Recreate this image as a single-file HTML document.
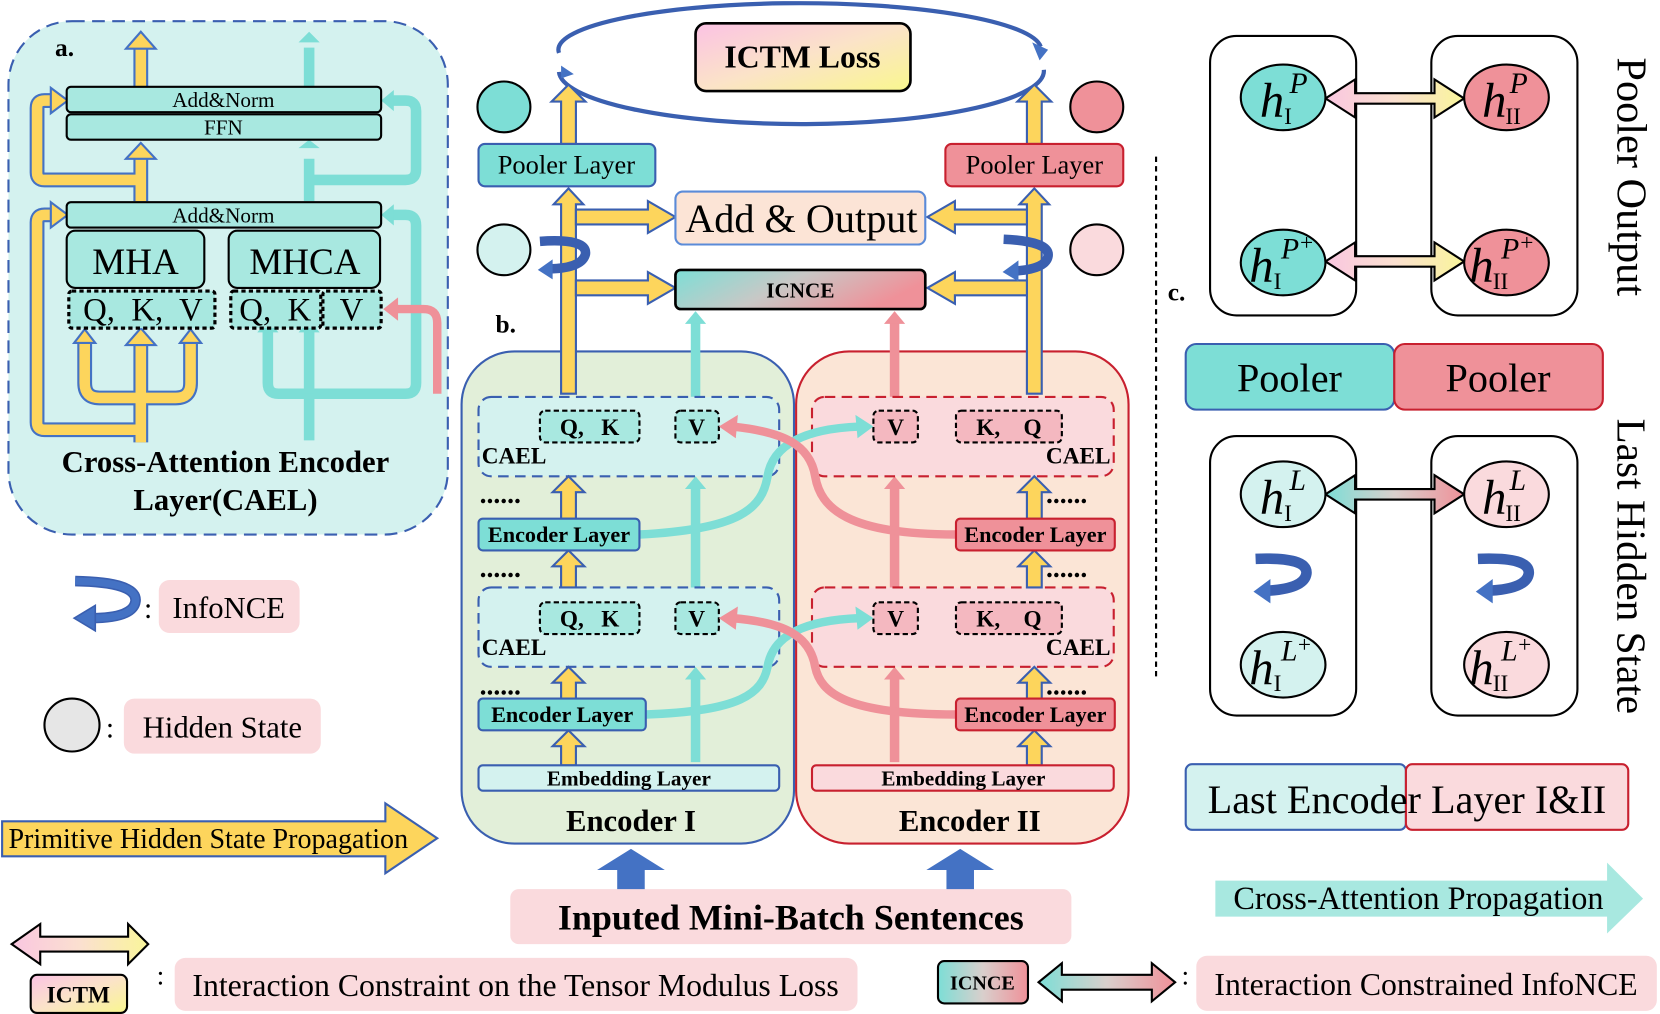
<!DOCTYPE html>
<html><head><meta charset="utf-8"><style>
html,body{margin:0;padding:0;background:#fff;}
svg{display:block;}
text{font-family:"Liberation Serif",serif;fill:#000;white-space:pre;}
.b{font-weight:bold;}
</style></head><body>
<svg width="1660" height="1014" viewBox="0 0 1568 958" preserveAspectRatio="none" xmlns="http://www.w3.org/2000/svg" xml:space="preserve">
<defs>
<linearGradient id="pg" x1="0" y1="0" x2="1" y2="0"><stop offset="0" stop-color="#f9c6e0"/><stop offset="0.5" stop-color="#fbe0d0"/><stop offset="1" stop-color="#f9f59a"/></linearGradient>
<linearGradient id="pg2" x1="0" y1="0" x2="1" y2="1"><stop offset="0" stop-color="#fbc2e4"/><stop offset="0.5" stop-color="#fbe3c8"/><stop offset="1" stop-color="#f9f78e"/></linearGradient>
<linearGradient id="tp" x1="0" y1="0" x2="1" y2="0.3"><stop offset="0" stop-color="#7dded6"/><stop offset="0.5" stop-color="#c8c8c6"/><stop offset="1" stop-color="#ef9199"/></linearGradient>
<linearGradient id="tph" x1="0" y1="0" x2="1" y2="0"><stop offset="0" stop-color="#7dded6"/><stop offset="0.5" stop-color="#d9cfcc"/><stop offset="1" stop-color="#ef9199"/></linearGradient>
</defs>

<!-- ===== Panel a ===== -->
<rect x="8" y="20" width="415" height="485" rx="60" fill="#d4f2ef" stroke="#3a5fb0" stroke-width="2" stroke-dasharray="12,7"/>
<text x="52" y="53" font-size="24" class="b">a.</text>

<g fill="none" stroke="#7dded6" stroke-width="10">
<path d="M292,416 V372 M253,312 V362 Q253,372 263,372 H383 Q393,372 393,362 V213 Q393,203 383,203 H370"/>
<path d="M292,190 V150 M292,170 H383 Q393,170 393,160 V105 Q393,95 383,95 H370"/>
<path d="M292,82 V45"/>
<path d="M292,372 V312"/>
</g>
<g fill="#7dded6">
<polygon points="243,314 253,302 263,314"/><polygon points="282,314 292,302 302,314"/>
<polygon points="360,203 372,193 372,213"/><polygon points="360,95 372,85 372,105"/>
<polygon points="282,140 292,132 302,140"/><polygon points="282,40 292,30 302,40"/>
</g>
<path d="M413,372 V305 Q413,292 400,292 H372" fill="none" stroke="#ef9199" stroke-width="8"/>
<polygon points="362,292 376,281 376,303" fill="#ef9199"/>

<g fill="none" stroke="#4472c4" stroke-width="14" stroke-linejoin="round">
<path d="M133,418 V325 M80,322 V362 Q80,376 94,376 H166 Q180,376 180,362 V322 M133,406 H42 Q35,406 35,399 V210 Q35,203 42,203 H52"/>
<path d="M133,190 V150 M133,170 H42 Q35,170 35,163 V102 Q35,95 42,95 H52"/>
<path d="M133,82 V45"/>
</g>
<g fill="none" stroke="#fdd55c" stroke-width="10" stroke-linejoin="round">
<path d="M133,418 V325 M80,322 V362 Q80,376 94,376 H166 Q180,376 180,362 V322 M133,406 H42 Q35,406 35,399 V210 Q35,203 42,203 H52"/>
<path d="M133,190 V150 M133,170 H42 Q35,170 35,163 V102 Q35,95 42,95 H52"/>
<path d="M133,82 V45"/>
</g>
<g fill="#fdd55c" stroke="#4472c4" stroke-width="2">
<polygon points="119,326 133,310 147,326"/><polygon points="70,324 80,311 90,324"/><polygon points="170,324 180,311 190,324"/>
<polygon points="48,191 64,203 48,215"/><polygon points="48,83 64,95 48,107"/>
<polygon points="119,150 133,135 147,150"/><polygon points="119,46 133,30 147,46"/>
</g>

<g stroke="#000" stroke-width="2" fill="#a8e8e0">
<rect x="63" y="82" width="297" height="24" rx="4"/>
<rect x="63" y="108" width="297" height="24" rx="4"/>
<rect x="63" y="191" width="297" height="24" rx="4"/>
<rect x="63" y="218" width="130" height="54" rx="8"/>
<rect x="216" y="218" width="143" height="54" rx="8"/>
</g>
<g stroke="#000" stroke-width="3" fill="#a8e8e0" stroke-dasharray="4,3">
<rect x="65" y="275" width="138" height="35" rx="3"/>
<rect x="218" y="275" width="85" height="35" rx="3"/>
<rect x="305" y="275" width="55" height="35" rx="3"/>
</g>
<text x="211" y="101" font-size="20" text-anchor="middle">Add&amp;Norm</text>
<text x="211" y="127" font-size="20" text-anchor="middle">FFN</text>
<text x="211" y="210" font-size="20" text-anchor="middle">Add&amp;Norm</text>
<text x="128" y="259" font-size="35" text-anchor="middle">MHA</text>
<text x="288" y="259" font-size="35" text-anchor="middle">MHCA</text>
<text x="135" y="303" font-size="31" text-anchor="middle">Q,  K,  V</text>
<text x="260" y="303" font-size="31" text-anchor="middle">Q,  K</text>
<text x="332" y="303" font-size="31" text-anchor="middle">V</text>
<text x="213" y="446" font-size="29" class="b" text-anchor="middle">Cross-Attention Encoder</text>
<text x="213" y="482" font-size="29" class="b" text-anchor="middle">Layer(CAEL)</text>

<!-- ===== Legend left ===== -->
<path d="M71,549 Q130,550 128,568 Q126,584 86,584" fill="none" stroke="#3a5fb0" stroke-width="10"/>
<path d="M71,549 Q130,550 128,568 Q126,584 86,584" fill="none" stroke="#4472c4" stroke-width="7"/>
<polygon points="70,584 90,572 90,596" fill="#4472c4" stroke="#3a5fb0" stroke-width="1.5"/>
<text x="136" y="584" font-size="28">:</text>
<rect x="150" y="548" width="133" height="50" rx="10" fill="#fadadd"/>
<text x="216" y="584" font-size="29" text-anchor="middle">InfoNCE</text>

<ellipse cx="68" cy="685" rx="26" ry="25" fill="#e6e6e6" stroke="#000" stroke-width="2"/>
<text x="100" y="697" font-size="28">:</text>
<rect x="117" y="660" width="186" height="52" rx="10" fill="#fadadd"/>
<text x="210" y="697" font-size="29" text-anchor="middle">Hidden State</text>

<polygon points="2,776 364,776 364,759 413,792 364,825 364,809 2,809" fill="#fdd55c" stroke="#3a5fb0" stroke-width="2"/>
<text x="8" y="801" font-size="26.5">Primitive Hidden State Propagation</text>

<polygon points="11,892 38,873 38,885 121,885 121,873 140,892 121,911 121,899 38,899 38,911" fill="url(#pg)" stroke="#000" stroke-width="2"/>
<rect x="29" y="921" width="91" height="36" rx="6" fill="url(#pg2)" stroke="#000" stroke-width="2"/>
<text x="74" y="947" font-size="22" class="b" text-anchor="middle">ICTM</text>
<text x="148" y="930" font-size="26">:</text>
<rect x="165" y="905" width="645" height="50" rx="10" fill="#fadadd"/>
<text x="487" y="941" font-size="30" text-anchor="middle">Interaction Constraint on the Tensor Modulus Loss</text>

<!-- ===== Panel b ===== -->
<path d="M528,68 A228,50 0 0 0 986,66" fill="none" stroke="#3a5fb0" stroke-width="4"/>
<path d="M528,50 A228,44 0 0 1 983,44" fill="none" stroke="#3a5fb0" stroke-width="4"/>
<polygon points="975,40 990,47 982,57" fill="#4472c4"/>
<polygon points="530,62 542,70 530,74" fill="#4472c4"/>
<rect x="657" y="22" width="203" height="64" rx="10" fill="url(#pg2)" stroke="#000" stroke-width="2.5"/>
<text x="758" y="64" font-size="30" class="b" text-anchor="middle">ICTM Loss</text>

<ellipse cx="476" cy="101" rx="25" ry="24" fill="#7dded6" stroke="#000" stroke-width="2"/>
<ellipse cx="1036" cy="101" rx="25" ry="24" fill="#ef9199" stroke="#000" stroke-width="2"/>
<ellipse cx="476" cy="236" rx="25" ry="24" fill="#d4f2ef" stroke="#000" stroke-width="2"/>
<ellipse cx="1036" cy="236" rx="25" ry="24" fill="#fadadd" stroke="#000" stroke-width="2"/>

<rect x="436" y="332" width="314" height="465" rx="50" fill="#e2efd9" stroke="#3a5fb0" stroke-width="2"/>
<rect x="752" y="332" width="314" height="465" rx="50" fill="#fbe5d6" stroke="#c8202f" stroke-width="2"/>

<g stroke-width="9" fill="none">
<path d="M657,720 V640 M657,555 V460 M657,375 V305" stroke="#7dded6"/>
<path d="M845,720 V640 M845,555 V460 M845,375 V305" stroke="#ef9199"/>
</g>
<g fill="#7dded6"><polygon points="647,642 657,630 667,642"/><polygon points="647,462 657,450 667,462"/><polygon points="647,306 657,294 667,306"/></g>
<g fill="#ef9199"><polygon points="835,642 845,630 855,642"/><polygon points="835,462 845,450 855,462"/><polygon points="835,306 845,294 855,306"/></g>

<g stroke-width="2" stroke-dasharray="10,6">
<rect x="452" y="375" width="284" height="75" rx="12" fill="#d4f2ef" stroke="#3a5fb0"/>
<rect x="452" y="555" width="284" height="75" rx="12" fill="#d4f2ef" stroke="#3a5fb0"/>
<rect x="767" y="375" width="285" height="75" rx="12" fill="#fadadd" stroke="#c8202f"/>
<rect x="767" y="555" width="285" height="75" rx="12" fill="#fadadd" stroke="#c8202f"/>
</g>
<g stroke="#000" stroke-width="2" stroke-dasharray="5,3">
<rect x="510" y="388" width="94" height="30" rx="5" fill="#a8e8e0"/>
<rect x="638" y="388" width="41" height="30" rx="5" fill="#a8e8e0"/>
<rect x="825" y="388" width="42" height="30" rx="5" fill="#f4b8c0"/>
<rect x="903" y="388" width="100" height="30" rx="5" fill="#f4b8c0"/>
<rect x="510" y="569" width="94" height="30" rx="5" fill="#a8e8e0"/>
<rect x="638" y="569" width="41" height="30" rx="5" fill="#a8e8e0"/>
<rect x="825" y="569" width="42" height="30" rx="5" fill="#f4b8c0"/>
<rect x="903" y="569" width="100" height="30" rx="5" fill="#f4b8c0"/>
</g>
<g font-size="22" class="b">
<text x="557" y="411" text-anchor="middle">Q,   K</text><text x="658" y="411" text-anchor="middle">V</text>
<text x="846" y="411" text-anchor="middle">V</text><text x="953" y="411" text-anchor="middle">K,    Q</text>
<text x="557" y="592" text-anchor="middle">Q,   K</text><text x="658" y="592" text-anchor="middle">V</text>
<text x="846" y="592" text-anchor="middle">V</text><text x="953" y="592" text-anchor="middle">K,    Q</text>
<text x="455" y="438">CAEL</text><text x="1049" y="438" text-anchor="end">CAEL</text>
<text x="455" y="619">CAEL</text><text x="1049" y="619" text-anchor="end">CAEL</text>
</g>
<g font-size="26" class="b">
<text x="453" y="475">......</text><text x="988" y="475">......</text>
<text x="453" y="545">......</text><text x="988" y="545">......</text>
<text x="453" y="656">......</text><text x="988" y="656">......</text>
</g>

<path d="M604,505 C700,500 720,480 725,450 C730,420 760,405 812,403" fill="none" stroke="#7dded6" stroke-width="8"/>
<polygon points="825,403 808,392 810,414" fill="#7dded6"/>
<path d="M903,505 C800,505 775,480 770,450 C765,420 740,408 692,403" fill="none" stroke="#ef9199" stroke-width="8"/>
<polygon points="679,403 697,392 695,414" fill="#ef9199"/>
<path d="M610,675 C700,672 720,655 725,630 C730,600 760,586 812,584" fill="none" stroke="#7dded6" stroke-width="8"/>
<polygon points="825,584 808,573 810,595" fill="#7dded6"/>
<path d="M903,675 C800,675 775,655 770,630 C765,600 740,588 692,584" fill="none" stroke="#ef9199" stroke-width="8"/>
<polygon points="679,584 697,573 695,595" fill="#ef9199"/>

<g fill="#fdd55c" stroke="#3a5fb0" stroke-width="2">
<polygon points="530,372 530,193 523,193 537,178 551,193 544,193 544,372"/>
<polygon points="970,372 970,193 963,193 977,178 991,193 984,193 984,372"/>
<polygon points="530,136 530,96 521,96 537,80 553,96 544,96 544,136"/>
<polygon points="970,136 970,96 961,96 977,80 993,96 984,96 984,136"/>
<polygon points="544,198 612,198 612,190 638,205 612,220 612,212 544,212"/>
<polygon points="544,265 612,265 612,257 638,272 612,287 612,279 544,279"/>
<polygon points="970,198 902,198 902,190 876,205 902,220 902,212 970,212"/>
<polygon points="970,265 902,265 902,257 876,272 902,287 902,279 970,279"/>
<polygon points="530,490 530,465 522,465 537,450 552,465 544,465 544,490"/>
<polygon points="970,490 970,465 962,465 977,450 992,465 984,465 984,490"/>
<polygon points="530,555 530,535 522,535 537,520 552,535 544,535 544,555"/>
<polygon points="970,555 970,535 962,535 977,520 992,535 984,535 984,555"/>
<polygon points="530,660 530,645 522,645 537,630 552,645 544,645 544,660"/>
<polygon points="970,660 970,645 962,645 977,630 992,645 984,645 984,660"/>
<polygon points="530,723 530,705 522,705 537,690 552,705 544,705 544,723"/>
<polygon points="970,723 970,705 962,705 977,690 992,705 984,705 984,723"/>
</g>

<path d="M510,228 Q555,225 553,240 Q550,253 520,254" fill="none" stroke="#3a5fb0" stroke-width="9"/>
<polygon points="508,255 522,245 522,264" fill="#4472c4"/>
<path d="M948,226 Q992,228 990,242 Q988,254 960,256" fill="none" stroke="#3a5fb0" stroke-width="9"/>
<polygon points="947,257 962,246 962,266" fill="#4472c4"/>

<rect x="452" y="136" width="167" height="40" rx="6" fill="#7dded6" stroke="#3a5fb0" stroke-width="2"/>
<text x="535" y="164" font-size="25" text-anchor="middle">Pooler Layer</text>
<rect x="893" y="136" width="168" height="40" rx="6" fill="#ef9199" stroke="#c8202f" stroke-width="2"/>
<text x="977" y="164" font-size="25" text-anchor="middle">Pooler Layer</text>
<rect x="638" y="181" width="236" height="50" rx="7" fill="#fce4d6" stroke="#5b8bd8" stroke-width="2"/>
<text x="757" y="219" font-size="38" text-anchor="middle">Add &amp; Output</text>
<rect x="638" y="255" width="236" height="37" rx="5" fill="url(#tp)" stroke="#000" stroke-width="2.5"/>
<text x="756" y="281" font-size="20" class="b" text-anchor="middle">ICNCE</text>
<text x="468" y="314" font-size="24" class="b">b.</text>

<rect x="452" y="490" width="152" height="30" rx="4" fill="#7dded6" stroke="#3a5fb0" stroke-width="2"/>
<text x="528" y="512" font-size="21" class="b" text-anchor="middle">Encoder Layer</text>
<rect x="903" y="490" width="150" height="30" rx="4" fill="#ef9199" stroke="#c8202f" stroke-width="2"/>
<text x="978" y="512" font-size="21" class="b" text-anchor="middle">Encoder Layer</text>
<rect x="452" y="660" width="158" height="30" rx="4" fill="#7dded6" stroke="#3a5fb0" stroke-width="2"/>
<text x="531" y="682" font-size="21" class="b" text-anchor="middle">Encoder Layer</text>
<rect x="903" y="660" width="150" height="30" rx="4" fill="#ef9199" stroke="#c8202f" stroke-width="2"/>
<text x="978" y="682" font-size="21" class="b" text-anchor="middle">Encoder Layer</text>
<rect x="452" y="723" width="284" height="24" rx="4" fill="#d4f2ef" stroke="#3a5fb0" stroke-width="2"/>
<text x="594" y="742" font-size="20" class="b" text-anchor="middle">Embedding Layer</text>
<rect x="767" y="723" width="285" height="24" rx="4" fill="#fadadd" stroke="#c8202f" stroke-width="2"/>
<text x="910" y="742" font-size="20" class="b" text-anchor="middle">Embedding Layer</text>
<text x="596" y="785" font-size="29" class="b" text-anchor="middle">Encoder I</text>
<text x="916" y="785" font-size="29" class="b" text-anchor="middle">Encoder II</text>

<polygon points="583,842 583,822 564,822 596,802 628,822 609,822 609,842" fill="#4472c4"/>
<polygon points="894,842 894,822 875,822 907,802 939,822 920,822 920,842" fill="#4472c4"/>
<rect x="482" y="840" width="530" height="52" rx="8" fill="#fadadd"/>
<text x="747" y="878" font-size="34" class="b" text-anchor="middle">Inputed Mini-Batch Sentences</text>

<rect x="886" y="908" width="85" height="40" rx="6" fill="url(#tph)" stroke="#000" stroke-width="2"/>
<text x="928" y="935" font-size="19" class="b" text-anchor="middle">ICNCE</text>
<polygon points="981,928 1003,910 1003,921 1088,921 1088,910 1110,928 1088,946 1088,935 1003,935 1003,946" fill="url(#tph)" stroke="#000" stroke-width="2"/>
<text x="1116" y="930" font-size="26">:</text>
<rect x="1130" y="903" width="435" height="52" rx="10" fill="#fadadd"/>
<text x="1347" y="940" font-size="30" text-anchor="middle">Interaction Constrained InfoNCE</text>

<polygon points="1148,832 1518,832 1518,815 1552,849 1518,882 1518,866 1148,866" fill="#a8e8e0"/>
<text x="1165" y="859" font-size="30.5">Cross-Attention Propagation</text>

<line x1="1092" y1="148" x2="1092" y2="640" stroke="#000" stroke-width="2" stroke-dasharray="5,4"/>

<!-- ===== Panel c ===== -->
<text x="1103" y="284" font-size="24" class="b">c.</text>
<g fill="none" stroke="#000" stroke-width="2">
<rect x="1143" y="34" width="138" height="264" rx="25"/>
<rect x="1352" y="34" width="138" height="264" rx="25"/>
<rect x="1143" y="412" width="138" height="264" rx="25"/>
<rect x="1352" y="412" width="138" height="264" rx="25"/>
</g>
<polygon points="1252,93 1280,75 1280,88 1355,88 1355,75 1383,93 1355,111 1355,98 1280,98 1280,111" fill="url(#pg)" stroke="#000" stroke-width="2"/>
<polygon points="1252,247 1280,229 1280,242 1355,242 1355,229 1383,247 1355,265 1355,252 1280,252 1280,265" fill="url(#pg)" stroke="#000" stroke-width="2"/>
<polygon points="1252,467 1280,449 1280,462 1355,462 1355,449 1383,467 1355,485 1355,472 1280,472 1280,485" fill="url(#tph)" stroke="#000" stroke-width="2"/>
<g stroke="#000" stroke-width="2">
<ellipse cx="1212" cy="92" rx="40" ry="31" fill="#7dded6"/>
<ellipse cx="1423" cy="92" rx="40" ry="31" fill="#ef9199"/>
<ellipse cx="1212" cy="248" rx="40" ry="31" fill="#7dded6"/>
<ellipse cx="1423" cy="248" rx="40" ry="31" fill="#ef9199"/>
<ellipse cx="1212" cy="467" rx="40" ry="31" fill="#d4f2ef"/>
<ellipse cx="1423" cy="467" rx="40" ry="31" fill="#fadadd"/>
<ellipse cx="1212" cy="628" rx="40" ry="31" fill="#d4f2ef"/>
<ellipse cx="1423" cy="628" rx="40" ry="31" fill="#fadadd"/>
</g>
<g font-style="italic">
<text x="1190" y="110" font-size="46">h</text><text x="1213" y="117" font-size="22" font-style="normal">I</text><text x="1218" y="88" font-size="28">P</text>
<text x="1400" y="110" font-size="46">h</text><text x="1422" y="117" font-size="22" font-style="normal">II</text><text x="1426" y="88" font-size="28">P</text>
<text x="1180" y="266" font-size="46">h</text><text x="1203" y="273" font-size="22" font-style="normal">I</text><text x="1210" y="244" font-size="28">P</text><text x="1228" y="236" font-size="22" font-style="normal">+</text>
<text x="1388" y="266" font-size="46">h</text><text x="1410" y="273" font-size="22" font-style="normal">II</text><text x="1418" y="244" font-size="28">P</text><text x="1436" y="236" font-size="22" font-style="normal">+</text>
<text x="1190" y="485" font-size="46">h</text><text x="1213" y="492" font-size="22" font-style="normal">I</text><text x="1218" y="463" font-size="28">L</text>
<text x="1400" y="485" font-size="46">h</text><text x="1422" y="492" font-size="22" font-style="normal">II</text><text x="1426" y="463" font-size="28">L</text>
<text x="1180" y="646" font-size="46">h</text><text x="1203" y="653" font-size="22" font-style="normal">I</text><text x="1210" y="624" font-size="28">L</text><text x="1226" y="616" font-size="22" font-style="normal">+</text>
<text x="1388" y="646" font-size="46">h</text><text x="1410" y="653" font-size="22" font-style="normal">II</text><text x="1418" y="624" font-size="28">L</text><text x="1434" y="616" font-size="22" font-style="normal">+</text>
</g>
<rect x="1120" y="325" width="197" height="62" rx="10" fill="#7dded6" stroke="#3a5fb0" stroke-width="2"/>
<rect x="1317" y="325" width="197" height="62" rx="10" fill="#ef9199" stroke="#c8202f" stroke-width="2"/>
<text x="1218" y="370" font-size="38" text-anchor="middle">Pooler</text>
<text x="1415" y="370" font-size="38" text-anchor="middle">Pooler</text>

<path d="M1186,528 Q1236,526 1234,542 Q1232,556 1198,558" fill="none" stroke="#3a5fb0" stroke-width="10"/>
<polygon points="1184,559 1200,547 1200,570" fill="#4472c4"/>
<path d="M1396,528 Q1446,526 1444,542 Q1442,556 1408,558" fill="none" stroke="#3a5fb0" stroke-width="10"/>
<polygon points="1394,559 1410,547 1410,570" fill="#4472c4"/>

<text transform="translate(1528,167) rotate(90)" font-size="40" text-anchor="middle">Pooler Output</text>
<text transform="translate(1528,535) rotate(90)" font-size="39" text-anchor="middle">Last Hidden State</text>

<rect x="1120" y="722" width="208" height="62" rx="6" fill="#d4f2ef" stroke="#3a5fb0" stroke-width="2"/>
<rect x="1328" y="722" width="210" height="62" rx="6" fill="#fadadd" stroke="#c8202f" stroke-width="2"/>
<text x="1329" y="768" font-size="38" text-anchor="middle">Last Encoder Layer I&amp;II</text>
</svg>
</body></html>
